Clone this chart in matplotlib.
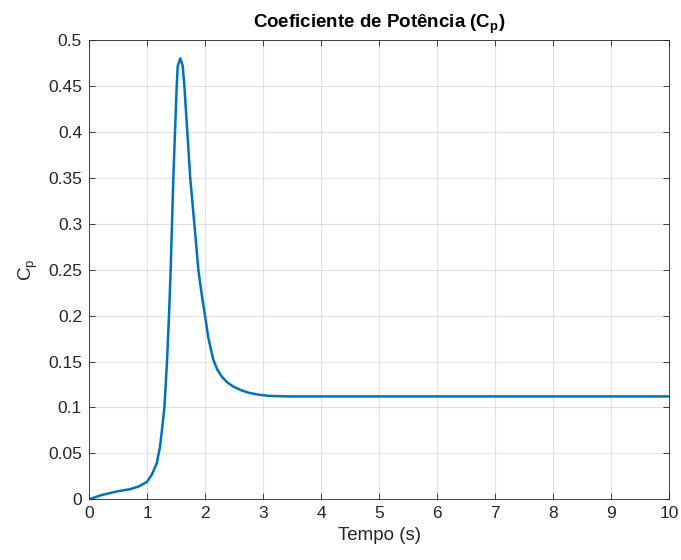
import matplotlib.pyplot as plt
import numpy as np

plt.rcParams['font.family'] = ['Liberation Sans', 'DejaVu Sans']
plt.rcParams['mathtext.fontset'] = 'custom'
plt.rcParams['mathtext.rm'] = 'Liberation Sans'
plt.rcParams['mathtext.bf'] = 'Liberation Sans:bold'

# Cp ao longo do tempo
tempo = [0, 0.22, 0.5, 0.7, 0.85, 1.0, 1.08, 1.167, 1.224, 1.264, 1.30,
         1.345, 1.379, 1.408, 1.431, 1.454, 1.483, 1.512, 1.53, 1.574,
         1.615, 1.644, 1.695, 1.745, 1.816, 1.885, 1.943, 2.0, 2.057, 2.143,
         2.21, 2.29, 2.38, 2.49, 2.62, 2.75, 2.93, 3.12, 3.46, 4, 5, 6, 7,
         8, 9, 10]
cp = [0, 0.0047, 0.0088, 0.0109, 0.0138, 0.019, 0.0265, 0.039, 0.057,
      0.079, 0.100, 0.150, 0.200, 0.250, 0.300, 0.350, 0.400, 0.450, 0.472,
      0.480, 0.472, 0.450, 0.400, 0.350, 0.300, 0.250, 0.223, 0.200, 0.176,
      0.152, 0.1415, 0.1335, 0.1275, 0.1226, 0.1188, 0.116, 0.1138, 0.1125,
      0.112, 0.112, 0.112, 0.112, 0.112, 0.112, 0.112, 0.112]

txt = (0.15, 0.15, 0.15)

fig = plt.figure(figsize=(6.81, 5.60), dpi=100)
ax = fig.add_axes([0.1307, 0.1084, 0.8517, 0.8202])
ax.plot(tempo, cp, color=(0, 0.447, 0.741), lw=1.8, solid_joinstyle='round')

ax.set_xlim(0, 10)
ax.set_ylim(0, 0.5)
ax.set_xticks(np.arange(0, 11, 1))
ax.set_yticks(np.arange(0, 0.51, 0.05))
ax.set_xticklabels([str(i) for i in range(11)])
ax.set_yticklabels(['0', '0.05', '0.1', '0.15', '0.2', '0.25', '0.3', '0.35',
                    '0.4', '0.45', '0.5'])
ax.grid(True, color=(0.15, 0.15, 0.15), alpha=0.13, lw=0.8)
ax.tick_params(direction='in', top=True, right=True, length=4, width=0.6,
               colors=txt, labelsize=12.5, pad=5)
for s in ax.spines.values():
    s.set_color(txt)
    s.set_linewidth(0.6)

ax.set_xlabel('Tempo (s)', fontsize=13.5, color=txt, labelpad=4)
ax.set_ylabel('C$_{\\mathregular{p}}$', fontsize=13.5, color=txt, labelpad=6)
ax.set_title('Coeficiente de Potência (C$_{\\mathbf{p}}$)', fontsize=13.5,
             fontweight='bold', color='black', pad=9)

fig.savefig('out.png', dpi=100, facecolor='white')
